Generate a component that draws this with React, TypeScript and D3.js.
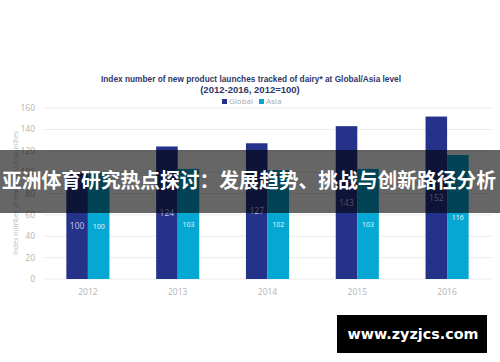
import React, { useRef, useEffect } from 'react';
import * as d3 from 'd3';

const years = ['2012', '2013', '2014', '2015', '2016'];
const seriesNames = ['Global', 'Asia'];
const globalValues = [100, 124, 127, 143, 152];
const asiaValues = [100, 103, 102, 103, 116];
const yTicks = [0, 20, 40, 60, 80, 100, 120, 140, 160];
const colors = { Global: '#24328a', Asia: '#04a8d3' };

const App = () => {
  const svgRef = useRef(null);

  useEffect(() => {
    const width = 500;
    const height = 362;
    const svg = d3.select(svgRef.current);
    svg.selectAll('*').remove();
    svg.attr('width', width).attr('height', height);

    svg.append('rect').attr('width', width).attr('height', height).attr('fill', '#ffffff');

    const data = years.map((y, i) => ({ year: y, Global: globalValues[i], Asia: asiaValues[i] }));

    const x0 = d3.scaleBand().domain(years).range([43, 492]).paddingInner(0.52).paddingOuter(0.26);
    const x1 = d3.scaleBand().domain(seriesNames).range([0, x0.bandwidth()]);
    const y = d3.scaleLinear().domain([0, 160]).range([279, 108]);

    // gridlines
    svg.append('g')
      .selectAll('line')
      .data(yTicks)
      .join('line')
      .attr('x1', 44)
      .attr('x2', 492)
      .attr('y1', d => y(d))
      .attr('y2', d => y(d))
      .attr('stroke', '#ebebeb')
      .attr('stroke-width', 1);

    // y tick labels
    svg.append('g')
      .selectAll('text')
      .data(yTicks)
      .join('text')
      .attr('x', 35)
      .attr('y', d => y(d) + 3)
      .attr('text-anchor', 'end')
      .attr('font-family', 'Open Sans, sans-serif')
      .attr('font-size', 8.5)
      .attr('fill', '#b3b3b3')
      .text(d => d);

    // bars
    const groups = svg.append('g')
      .selectAll('g')
      .data(data)
      .join('g')
      .attr('transform', d => `translate(${x0(d.year)},0)`);

    groups.selectAll('rect')
      .data(d => seriesNames.map(k => ({ key: k, value: d[k] })))
      .join('rect')
      .attr('x', d => x1(d.key))
      .attr('y', d => y(d.value))
      .attr('width', x1.bandwidth())
      .attr('height', d => y(0) - y(d.value))
      .attr('fill', d => colors[d.key]);

    groups.selectAll('text')
      .data(d => seriesNames.map(k => ({ key: k, value: d[k] })))
      .join('text')
      .attr('x', d => x1(d.key) + x1.bandwidth() / 2)
      .attr('y', d => (y(d.value) + y(0)) / 2 + 3)
      .attr('text-anchor', 'middle')
      .attr('font-family', 'Open Sans, sans-serif')
      .attr('font-size', d => (d.key === 'Global' ? 8.5 : 7))
      .attr('fill', d => (d.key === 'Global' ? '#c3c7ea' : '#e8f7fc'))
      .text(d => d.value);

    // x labels
    svg.append('g')
      .selectAll('text')
      .data(years)
      .join('text')
      .attr('x', d => x0(d) + x0.bandwidth() / 2)
      .attr('y', 295)
      .attr('text-anchor', 'middle')
      .attr('font-family', 'Open Sans, sans-serif')
      .attr('font-size', 8.5)
      .attr('fill', '#b3b3b3')
      .text(d => d);

    // y axis label
    svg.append('text')
      .attr('transform', 'rotate(-90)')
      .attr('x', -193)
      .attr('y', 18)
      .attr('text-anchor', 'middle')
      .attr('textLength', 124)
      .attr('lengthAdjust', 'spacingAndGlyphs')
      .attr('font-family', 'Open Sans, sans-serif')
      .attr('font-size', 7.5)
      .attr('fill', '#bdbdbd')
      .text('Index number of new product launches');

    // title
    svg.append('text')
      .attr('x', 101)
      .attr('y', 82)
      .attr('textLength', 300)
      .attr('lengthAdjust', 'spacingAndGlyphs')
      .attr('font-family', 'Liberation Sans, Arial, sans-serif')
      .attr('font-weight', 'bold')
      .attr('font-size', 9.5)
      .attr('fill', '#30366a')
      .text('Index number of new product launches tracked of dairy* at Global/Asia level');
    svg.append('text')
      .attr('x', 250)
      .attr('y', 93)
      .attr('text-anchor', 'middle')
      .attr('font-family', 'Liberation Sans, Arial, sans-serif')
      .attr('font-weight', 'bold')
      .attr('font-size', 9.5)
      .attr('fill', '#30366a')
      .text('(2012-2016, 2012=100)');

    // legend
    const legend = svg.append('g')
      .selectAll('g')
      .data(seriesNames)
      .join('g')
      .attr('transform', (d, i) => `translate(${i === 0 ? 222 : 259},99)`);
    legend.append('rect').attr('width', 5).attr('height', 5).attr('fill', d => colors[d]);
    legend.append('text')
      .attr('x', 7)
      .attr('y', 5)
      .attr('font-family', 'Open Sans, sans-serif')
      .attr('font-size', 8)
      .attr('fill', '#a8a8a8')
      .text(d => d);

    // overlay banner
    svg.append('rect')
      .attr('x', 0)
      .attr('y', 150)
      .attr('width', width)
      .attr('height', 63)
      .attr('fill', 'rgba(0,0,0,0.6)');
    svg.append('text')
      .attr('x', 249)
      .attr('y', 188)
      .attr('text-anchor', 'middle')
      .attr('textLength', 494)
      .attr('lengthAdjust', 'spacingAndGlyphs')
      .attr('font-family', 'Noto Sans CJK SC, sans-serif')
      .attr('font-weight', 'bold')
      .attr('font-size', 20)
      .attr('fill', '#ffffff')
      .text('亚洲体育研究热点探讨：发展趋势、挑战与创新路径分析');

    // watermark
    svg.append('rect')
      .attr('x', 337)
      .attr('y', 315)
      .attr('width', 150)
      .attr('height', 38)
      .attr('fill', '#000000');
    svg.append('text')
      .attr('x', 413)
      .attr('y', 339)
      .attr('text-anchor', 'middle')
      .attr('textLength', 131)
      .attr('lengthAdjust', 'spacingAndGlyphs')
      .attr('font-family', 'DejaVu Sans, sans-serif')
      .attr('font-weight', 'bold')
      .attr('font-size', 14)
      .attr('fill', '#ffffff')
      .text('www.zyzjcs.com');
  }, []);

  return (
    <div style={{ position: 'absolute', left: 0, top: 0 }}>
      <svg ref={svgRef}></svg>
    </div>
  );
};

export default App;
